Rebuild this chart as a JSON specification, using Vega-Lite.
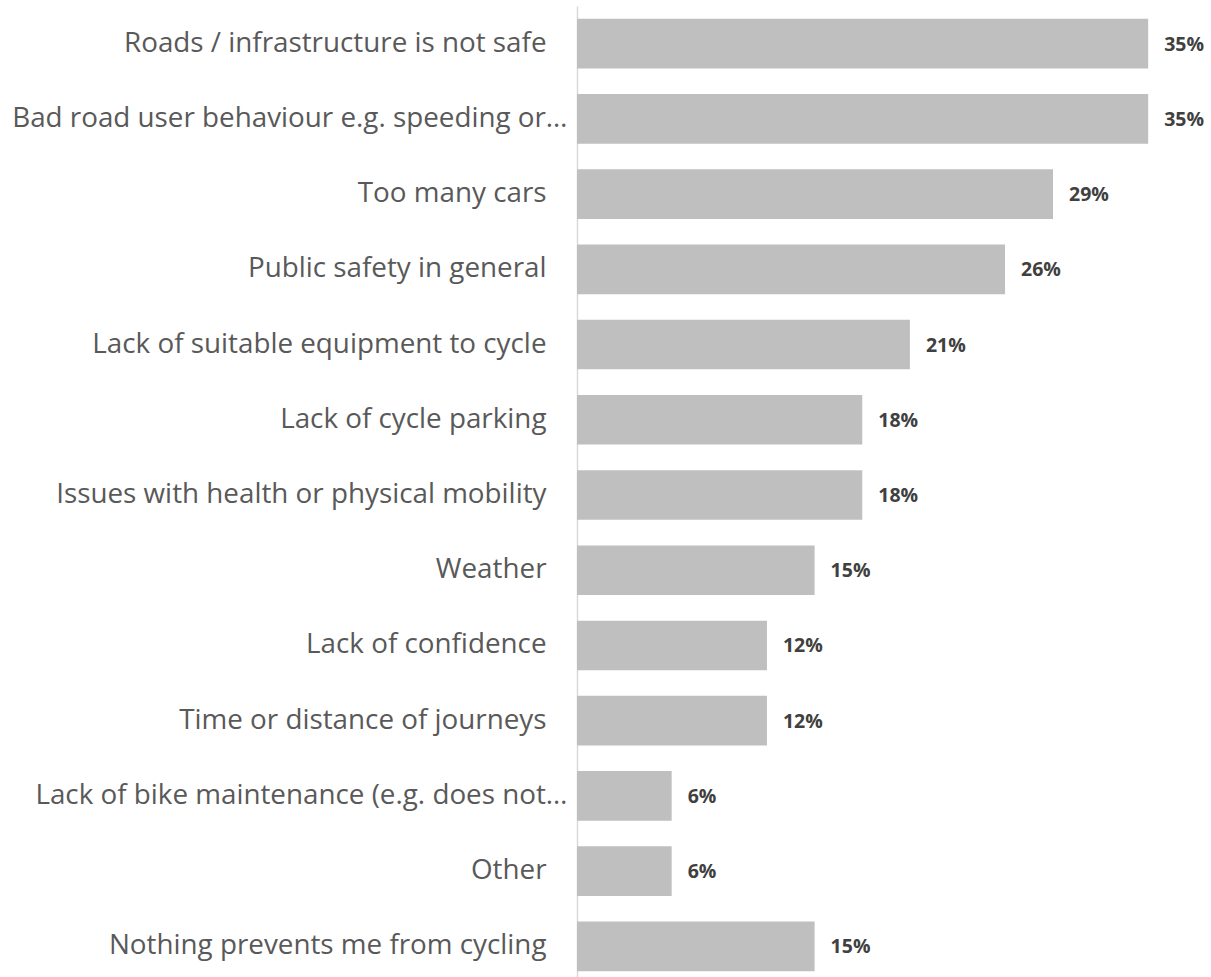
{
  "$schema": "https://vega.github.io/schema/vega-lite/v6.json",
  "width": 634,
  "height": 978,
  "autosize": {"type": "none"},
  "padding": {"left": 577, "top": 6, "right": 0, "bottom": 0},
  "background": "white",
  "config": {"view": {"stroke": null}},
  "data": {
    "values": [
      {"category": "Roads / infrastructure is not safe", "value": 35.0, "label": "35%"},
      {"category": "Bad road user behaviour e.g. speeding or…", "value": 35.0, "label": "35%"},
      {"category": "Too many cars", "value": 29.17, "label": "29%"},
      {"category": "Public safety in general", "value": 26.23, "label": "26%"},
      {"category": "Lack of suitable equipment to cycle", "value": 20.4, "label": "21%"},
      {"category": "Lack of cycle parking", "value": 17.48, "label": "18%"},
      {"category": "Issues with health or physical mobility", "value": 17.48, "label": "18%"},
      {"category": "Weather", "value": 14.56, "label": "15%"},
      {"category": "Lack of confidence", "value": 11.64, "label": "12%"},
      {"category": "Time or distance of journeys", "value": 11.64, "label": "12%"},
      {"category": "Lack of bike maintenance (e.g. does not…", "value": 5.8, "label": "6%"},
      {"category": "Other", "value": 5.8, "label": "6%"},
      {"category": "Nothing prevents me from cycling", "value": 14.56, "label": "15%"}
    ]
  },
  "encoding": {
    "y": {
      "field": "category",
      "type": "nominal",
      "sort": null,
      "scale": {"paddingInner": 0.34, "paddingOuter": 0.17},
      "axis": {
        "title": null,
        "ticks": false,
        "domain": true,
        "domainColor": "#D9D9D9",
        "domainWidth": 1.5,
        "labelFont": "Open Sans",
        "labelFontSize": 27.8,
        "labelColor": "#595959",
        "labelLimit": 1000,
        "labelPadding": {"condition": {"test": "indexof(datum.value, '…') >= 0", "value": 10}, "value": 31}
      }
    },
    "x": {
      "field": "value",
      "type": "quantitative",
      "scale": {"domain": [0, 38.85], "nice": false, "zero": true},
      "axis": null
    }
  },
  "layer": [
    {"mark": {"type": "bar", "color": "#BFBFBF"}},
    {
      "mark": {"type": "text", "align": "left", "baseline": "middle", "dx": 16, "dy": 1, "font": "Open Sans", "fontSize": 19.5, "fontWeight": "bold", "color": "#404040"},
      "encoding": {"text": {"field": "label"}}
    }
  ]
}
